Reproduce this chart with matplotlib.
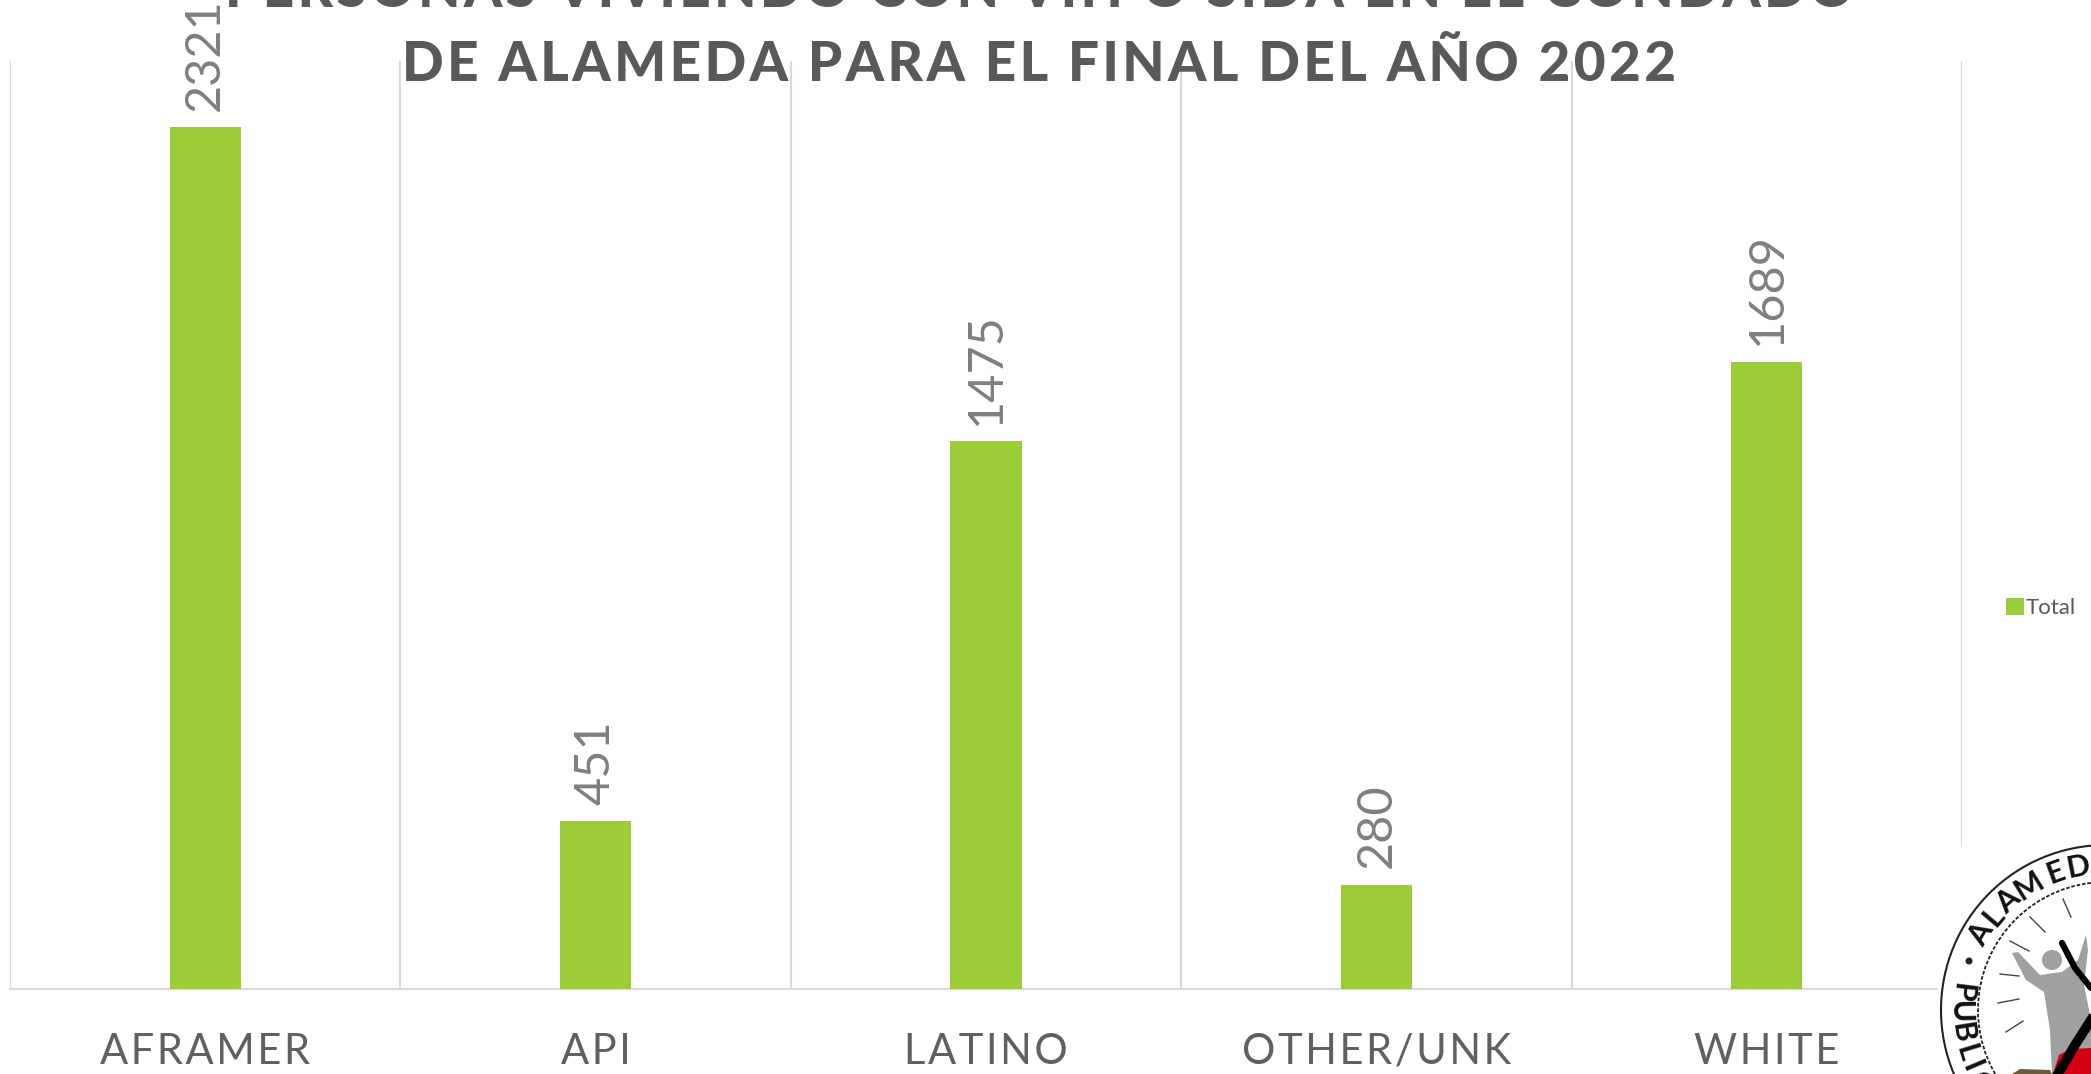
import numpy as np
import matplotlib
matplotlib.use('Agg')
import matplotlib.pyplot as plt
from matplotlib.patches import Circle, Polygon, Rectangle

categories = ['AFRAMER', 'API', 'LATINO', 'OTHER/UNK', 'WHITE']
totals = [2321, 451, 1475, 280, 1689]
title_lines = ['PERSONAS VIVIENDO CON VIH O SIDA EN EL CONDADO',
               'DE ALAMEDA PARA EL FINAL DEL AÑO 2022']

W, H = 2091, 1074
GREEN = '#9ACD38'
FONT = ['Lato', 'DejaVu Sans']
plt.rcParams['font.family'] = FONT


def spaced(s, sp='\u200a'):
    # letras separadas como en el original
    return sp.join(s)


fig = plt.figure(figsize=(W / 100, H / 100), dpi=100)
ax = fig.add_axes([10 / W, 1 - 988.5 / H, (1962 - 10) / W, (988.5 - 61) / H])

x = np.arange(len(categories))
bars = ax.bar(x, totals, width=0.182, color=GREEN, zorder=3, label='Total')
ax.set_xlim(-0.5, 4.5)
ax.set_ylim(0, 2500)
ax.set_yticks([])
ax.set_xticks(x)
ax.set_xticklabels([spaced(c) for c in categories], fontsize=30, color='#606060')
ax.set_xticks(np.arange(-0.5, 5), minor=True)
ax.grid(True, which='minor', axis='x', color='#d9d9d9', lw=1.5, zorder=0)
ax.tick_params(axis='x', which='both', length=0, pad=32)
for s in ['top', 'right', 'left']:
    ax.spines[s].set_visible(False)
ax.spines['bottom'].set_color('#d9d9d9')
ax.spines['bottom'].set_linewidth(1.5)

for b, v in zip(bars, totals):
    ax.annotate(str(v), (b.get_x() + b.get_width() / 2, v), xytext=(0, 12),
                textcoords='offset points', rotation=90, ha='center', va='bottom',
                fontsize=35, color='#7f7f7f', annotation_clip=False, zorder=4)

ax.legend(loc='center left', bbox_to_anchor=(1986 / W, 1 - 608 / H),
          bbox_transform=fig.transFigure, frameon=False, fontsize=16,
          labelcolor='#595959', handlelength=0.8, handleheight=0.8, handletextpad=0.1)

# capa en pixeles para titulo y sello
ov = fig.add_axes([0, 0, 1, 1], zorder=5)
ov.set_xlim(0, W)
ov.set_ylim(H, 0)
ov.axis('off')
ov.patch.set_alpha(0)

ov.text(1039, 7, spaced(title_lines[0]), fontsize=39.5, fontweight='black',
        color='#595959', ha='center', va='baseline')
ov.text(1039, 81, spaced(title_lines[1]), fontsize=39.5, fontweight='black',
        color='#595959', ha='center', va='baseline')

# sello
cx, cy = 2106, 1010
ov.add_patch(Rectangle((1938, 846), W - 1938, H - 846, fc='white', ec='none'))
ov.add_patch(Circle((cx, cy), 165, fc='white', ec='#222222', lw=1.5))
ov.add_patch(Circle((cx, cy), 128, fc='white', ec='#222222', lw=1.3, ls=(0, (2, 1))))

# letras en arco
for word, angles, upright in [('ALAMEDA', [149, 140, 132, 122, 110, 101, 92], True),
                              ('PUBLIC', [173, 181, 189, 197, 203, 210], False)]:
    for ch, a in zip(word, angles):
        ang = np.radians(a)
        px = cx + 146 * np.cos(ang)
        py = cy - 146 * np.sin(ang)
        rot = a - 90 if upright else a + 90
        ov.text(px, py, ch, fontsize=22, fontweight='bold', color='#111111', ha='center',
                va='center', rotation=rot, rotation_mode='anchor')
ov.add_patch(Circle((1969, 961), 3.5, fc='#222222', ec='none'))

# rayos
for a0, a1, b0, b1 in [(2063, 899, 2071, 917), (2030, 917, 2045, 932), (2010, 941, 2029, 951),
                       (2000, 974, 2019, 976), (1998, 1003, 2019, 999), (2006, 1032, 2023, 1021)]:
    ov.plot([a0, b0], [a1, b1], color='#444444', lw=1)

# figura gris, figura negra y rojo
ov.add_patch(Circle((2052, 960), 10, fc='#a0a0a0', ec='none'))
ov.add_patch(Polygon([(2012, 953), (2018, 952), (2040, 975), (2062, 972), (2078, 960), (2086, 935),
                      (2088, 950), (2084, 985), (2091, 1020), (2091, 1074), (2052, 1074),
                      (2050, 1030), (2044, 992), (2026, 980)], fc='#a0a0a0', ec='none'))
ov.add_patch(Polygon([(2059, 1055), (2070, 1049), (2091, 1048), (2091, 1074), (2053, 1074)],
                     fc='#d40012', ec='none'))
ov.add_patch(Polygon([(2012, 1074), (2020, 1069), (2050, 1070), (2052, 1074)], fc='#6b5a3a', ec='none'))
ov.plot([2062, 2075, 2091], [943, 968, 988], color='black', lw=4.5, solid_capstyle='round')
ov.plot([2091, 2075, 2058], [1020, 1045, 1074], color='black', lw=7)

fig.savefig('out.png', dpi=100)
